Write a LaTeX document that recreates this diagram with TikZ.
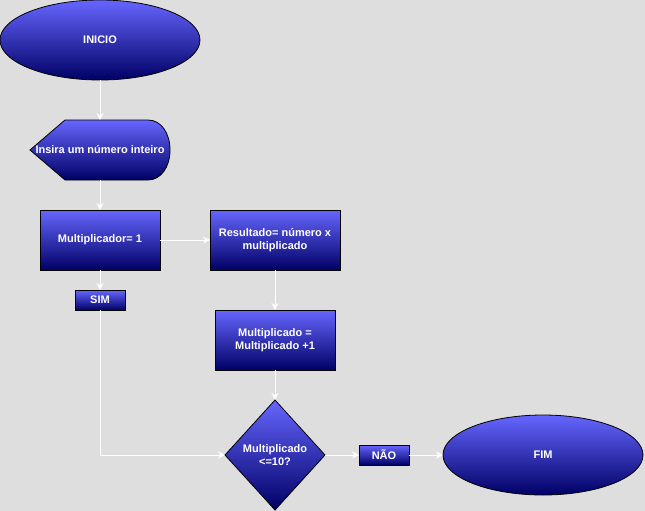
\documentclass[tikz,border=0pt]{standalone}
\usepackage{fontspec}
\setmainfont{Liberation Sans}
\usepackage{tikz}
\usetikzlibrary{shapes.geometric,arrows.meta,positioning,calc,backgrounds}
\definecolor{fcTop}{HTML}{6666FF}
\definecolor{fcBottom}{HTML}{000066}
\definecolor{fcCanvas}{HTML}{DEDEDE}
\tikzset{
    fcText/.style={
        text=white,
        font=\fontsize{11}{13}\selectfont\bfseries,
        align=center,
        outer sep=0pt
    },
    fcBase/.style={
        fcText,
        draw=black,
        line width=0.8pt,
        top color=fcTop,
        bottom color=fcBottom,
        inner sep=2pt
    },
    % Semantic Variants
    terminal/.style={fcBase, ellipse, minimum width=200pt, minimum height=80pt},
    process/.style={fcBase, rectangle, minimum width=120pt, minimum height=60pt},
    decision/.style={fcBase, diamond, minimum width=100pt, minimum height=110pt, inner sep=0pt},
    answer/.style={fcBase, rectangle, minimum width=50pt, minimum height=20pt, inner sep=0pt},
    inputbox/.style={fcText, rectangle, minimum width=140pt, minimum height=60pt, inner sep=0pt},
    % Arrows
    fcArrow/.style={-{Stealth[length=7pt,width=7pt]}, draw=white, line width=1pt}
}

\begin{document}
\begin{tikzpicture}[x=1pt,y=1pt]
\useasboundingbox (0,0) rectangle (645,-511);
\node[terminal] (inicio) at (100,-40) {INICIO};
\node[inputbox, below=40pt of inicio] (input) {Insira um número inteiro};
\node[process, below=30pt of input] (mult) {Multiplicador= 1};
\node[answer, below=20pt of mult] (sim) {SIM};
\node[process, minimum width=130pt, right=50pt of mult] (result) {Resultado= número x\\multiplicado};
\node[process, below=40pt of result] (incr) {Multiplicado =\\Multiplicado +1};
\node[decision, below=30pt of incr] (test) {Multiplicado\\\textless=10?};
\node[answer, right=34pt of test] (nao) {NÃO};
\node[terminal, right=34pt of nao] (fim) {FIM};

\begin{scope}[on background layer]
\fill[fcCanvas] (0,0) rectangle (645,-511);
% display shape of the input
\shade[draw=black, line width=0.8pt, top color=fcTop, bottom color=fcBottom]
    (input.west) -- ($(input.north west)+(35,0)$) -- ($(input.north east)+(-22,0)$)
    .. controls ($(input.north east)+(-9,0)$) and ($(input.east)+(0,17)$) .. (input.east)
    .. controls ($(input.east)+(0,-17)$) and ($(input.south east)+(-9,0)$) .. ($(input.south east)+(-22,0)$)
    -- ($(input.south west)+(35,0)$) -- cycle;
\end{scope}

\draw[fcArrow] (inicio) -- (input);
\draw[fcArrow] (input) -- (mult);
\draw[fcArrow] (mult) -- (result);
\draw[fcArrow] (mult) -- (sim);
\draw[fcArrow] (result) -- (incr);
\draw[fcArrow] (incr) -- (test);
\draw[fcArrow] (sim.south) |- (test.west);
\draw[fcArrow] (test) -- (nao);
\draw[fcArrow] (nao) -- (fim);
\end{tikzpicture}
\end{document}
